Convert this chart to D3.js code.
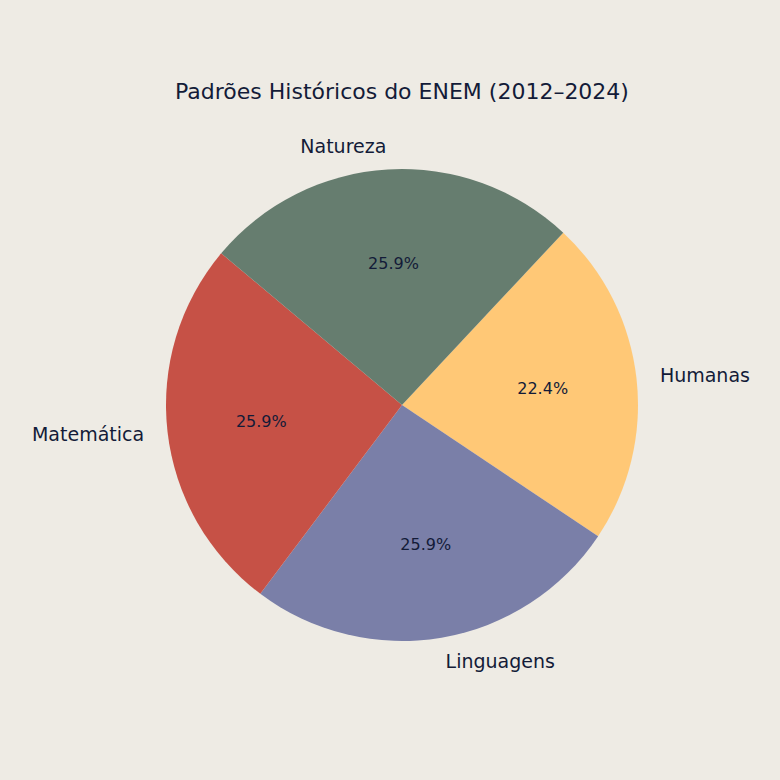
<!DOCTYPE html>
<html><head><meta charset="utf-8">
<script src="https://cdn.jsdelivr.net/npm/d3@7"></script>
<style>body{margin:0;background:#eeebe4;}</style>
</head><body>
<div id="chart"></div>
<script>
const categories = ['Humanas', 'Linguagens', 'Matemática', 'Natureza'];
const values = [13, 15, 15, 15];
const colors = ['#ffc876', '#7a7fa8', '#c65146', '#667d6f'];

const width = 780, height = 780;
const cx = 402, cy = 405, r = 236;
const textColor = '#131b38';

const svg = d3.select('#chart').append('svg')
    .attr('width', width).attr('height', height)
    .style('background', '#eeebe4')
    .style('font-family', 'DejaVu Sans');

svg.append('text')
    .attr('x', cx).attr('y', 99)
    .attr('text-anchor', 'middle')
    .attr('font-size', 22)
    .attr('fill', textColor)
    .text('Padrões Históricos do ENEM (2012–2024)');

const start = 43.1 * Math.PI / 180;
const pie = d3.pie().sort(null).startAngle(start).endAngle(start + 2 * Math.PI);
const arcs = pie(values);
const arc = d3.arc().innerRadius(0).outerRadius(r);

const g = svg.append('g').attr('transform', `translate(${cx},${cy})`);

g.selectAll('path').data(arcs).enter().append('path')
    .attr('d', arc)
    .attr('fill', (d, i) => colors[i]);

const total = d3.sum(values);
const pos = (d, k) => {
    const a = (d.startAngle + d.endAngle) / 2;
    return [Math.sin(a) * r * k, -Math.cos(a) * r * k];
};

g.selectAll('.lbl').data(arcs).enter().append('text')
    .attr('class', 'lbl')
    .attr('x', d => pos(d, 1.1)[0])
    .attr('y', d => pos(d, 1.1)[1])
    .attr('dy', '0.35em')
    .attr('text-anchor', d => pos(d, 1.1)[0] > 0 ? 'start' : 'end')
    .attr('font-size', 19)
    .attr('fill', textColor)
    .text((d, i) => categories[i]);

g.selectAll('.pct').data(arcs).enter().append('text')
    .attr('class', 'pct')
    .attr('x', d => pos(d, 0.6)[0])
    .attr('y', d => pos(d, 0.6)[1])
    .attr('dy', '0.35em')
    .attr('text-anchor', 'middle')
    .attr('font-size', 16)
    .attr('fill', textColor)
    .text(d => (d.value / total * 100).toFixed(1) + '%');
</script>
</body></html>
